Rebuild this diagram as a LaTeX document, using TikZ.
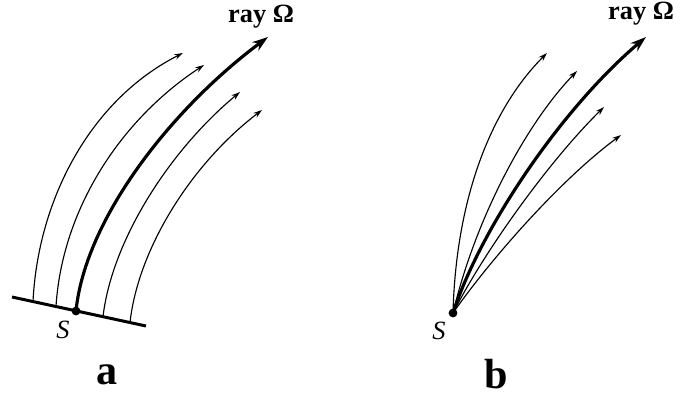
\documentclass[tikz,border=0pt]{standalone}
\usepackage{fontspec}
\setmainfont{Liberation Serif}
\usetikzlibrary{positioning, arrows.meta}

\begin{document}
\begin{tikzpicture}[x=0.02cm, y=-0.02cm,
          ray/.style={line width=0.65pt, -{Stealth[length=5pt, width=3.2pt]}},
          mainray/.style={line width=1.8pt, -{Stealth[length=9pt, width=6pt]}},
          src/.style={circle, fill=black, inner sep=0pt, minimum size=5pt},
          lbl/.style={font=\fontsize{15}{17}\selectfont\bfseries},
          tag/.style={font=\fontsize{24}{28}\selectfont\bfseries},
          pnt/.style={font=\fontsize{15}{17}\selectfont\itshape},
        ]
        \useasboundingbox (0,0) rectangle (680,396);
        % (a) extended source on a line
        \coordinate (la) at (12,297);
        \coordinate (lb) at (146,326);
        \draw[line width=1.7pt] (la) -- (lb);
        \node[src] (sa) at (76,311) {};
        \node[pnt] (Sa) at (63,330) {S};
        \coordinate (a1) at (33,301.5);
        \coordinate (a2) at (56,306.5);
        \coordinate (a4) at (103,316.7);
        \coordinate (a5) at (130,322.5);
        \coordinate (ea1) at (183,53);
        \coordinate (ea2) at (204,65);
        \coordinate (ea3) at (268,37);
        \coordinate (ea4) at (240,92);
        \coordinate (ea5) at (262,110);
        \draw[ray] (a1) .. controls (38,200) and (90,100) .. (ea1);
        \draw[ray] (a2) .. controls (62,210) and (120,120) .. (ea2);
        \draw[mainray] (sa.center) .. controls (85,220) and (170,110) .. (ea3);
        \draw[ray] (a4) .. controls (112,240) and (170,150) .. (ea4);
        \draw[ray] (a5) .. controls (138,250) and (190,165) .. (ea5);
        \node[lbl] (Ra) at (261,17) {ray Ω};
        \node[tag] (ta) at (107,375) {a};
        % (b) point source
        \node[src] (sb) at (453,313) {};
        \node[pnt] (Sb) at (439,331) {S};
        \coordinate (eb1) at (547,53);
        \coordinate (eb2) at (577,71);
        \coordinate (eb3) at (646,37);
        \coordinate (eb4) at (604,107);
        \coordinate (eb5) at (621,135);
        \draw[ray] (sb.center) .. controls (456,200) and (490,110) .. (eb1);
        \draw[ray] (sb.center) .. controls (475,220) and (525,125) .. (eb2);
        \draw[mainray] (sb.center) .. controls (480,230) and (560,110) .. (eb3);
        \draw[ray] (sb.center) .. controls (485,250) and (550,160) .. (eb4);
        \draw[ray] (sb.center) .. controls (490,260) and (560,180) .. (eb5);
        \node[lbl] (Rb) at (641,14) {ray Ω};
        \node[tag] (tb) at (496,374) {b};
        \end{tikzpicture}
\end{document}
